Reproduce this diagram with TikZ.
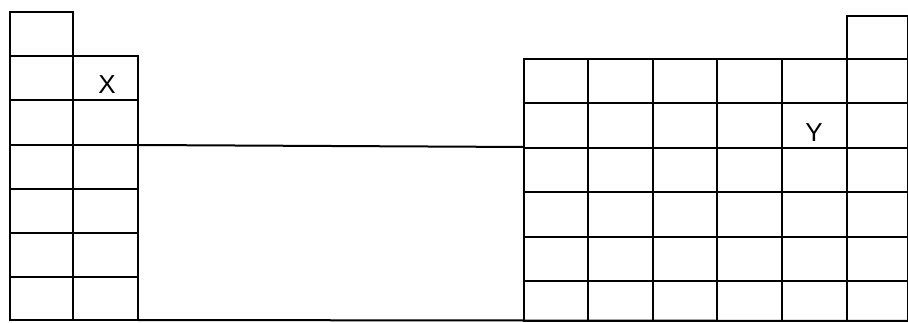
\documentclass[tikz,border=0pt]{standalone}
\usepackage{fontspec}
\setmainfont{Liberation Sans}
\usetikzlibrary{positioning}
\tikzset{
  celda/.style={draw=black, line width=2pt},
  simbolo/.style={font=\fontsize{26}{26}\selectfont, inner sep=0pt, text=black}
}

\begin{document}
\begin{tikzpicture}[x=1pt, y=-1pt]
  \useasboundingbox (0,0) rectangle (908,323);
  % bloque s
  \draw[celda] (10,12) rectangle (73,56);
  \foreach \ya/\yb in {56/100,100/145,145/189,189/233,233/277,277/320}{
    \draw[celda] (10,\ya) rectangle (73,\yb);
    \draw[celda] (73,\ya) rectangle (138,\yb);
  }
  % hueco central
  \draw[celda] (138,145) -- (524,147);
  \draw[celda] (138,320) -- (908,321);
  % bloque p
  \draw[celda] (847,16) rectangle (908,59);
  \foreach \xa/\xb in {524/588,588/653,653/717,717/782,782/847,847/908}{
    \foreach \ya/\yb in {59/103,103/148,148/192,192/237,237/281,281/321}{
      \draw[celda] (\xa,\ya) rectangle (\xb,\yb);
    }
  }
  \node[simbolo] (elemX) at (107,85) {X};
  \node[simbolo] (elemY) at (814,133) {Y};
\end{tikzpicture}
\end{document}
